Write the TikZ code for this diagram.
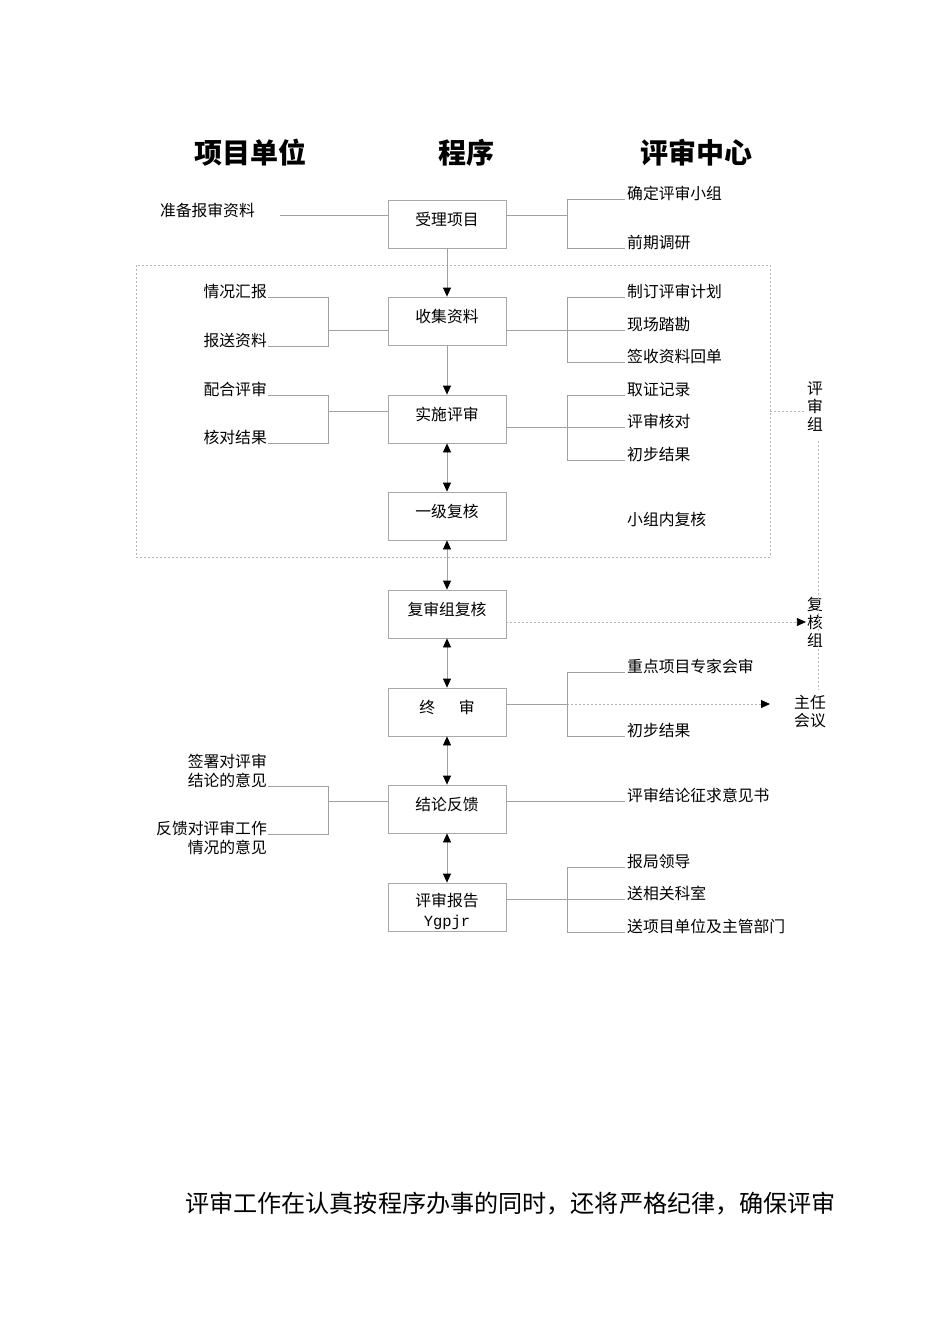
\documentclass[tikz,border=0pt]{standalone}
\usepackage{fontspec}
\setmainfont{Noto Sans CJK SC}
\setmonofont{Liberation Mono}
\usetikzlibrary{arrows.meta,calc}
\definecolor{boxgray}{HTML}{A8A8A8}
\definecolor{lngray}{HTML}{A0A0A0}
\definecolor{dgray}{HTML}{B4B4B4}
\begin{document}
\begin{tikzpicture}[x=1pt,y=-1pt,
  every node/.style={font=\fontsize{15.8}{18}\selectfont},
  box/.style={draw=boxgray, line width=0.8pt, minimum width=118pt, minimum height=48pt, inner sep=0pt, text height=11.5pt, text depth=9.5pt},
  ln/.style={draw=lngray, line width=0.8pt},
  dl/.style={draw=dgray, line width=0.8pt, dash pattern=on 2pt off 2pt},
  lt/.style={anchor=base west, inner sep=0pt},
  rt/.style={anchor=base east, inner sep=0pt},
  hdr/.style={font=\fontsize{28}{30}\selectfont\bfseries, inner sep=0pt},
  stack/.style={align=center, inner sep=0pt, font=\fontsize{15.8}{18}\selectfont},
  tip/.style={-{Triangle[length=9pt,width=8pt,color=black]}},
  dtip/.style={{Triangle[length=9pt,width=8pt,color=black]}-{Triangle[length=9pt,width=8pt,color=black]}},
]
\useasboundingbox (0,0) rectangle (950,1344);

% headers
\node[hdr] (h1) at (250,153) {项目单位};
\node[hdr] (h2) at (466,153) {程序};
\node[hdr] (h3) at (696,153) {评审中心};

% dashed group
\node[dl, draw, minimum width=634pt, minimum height=292pt, inner sep=0pt] (grp) at (453,411) {};

% boxes
\node[box] (b1) at (447,224) {受理项目};
\node[box] (b2) at (447,321) {收集资料};
\node[box] (b3) at (447,419) {实施评审};
\node[box] (b4) at (447,516) {一级复核};
\node[box] (b5) at (447,614) {复审组复核};
\node[box] (b6) at (447,712) {终\hspace{1.5em}审};
\node[box] (b7) at (447,809) {结论反馈};
\node[box] (b8) at (447,907) {};
\node[stack, font=\fontsize{15.8}{20}\selectfont] (b8t) at (447,911) {评审报告\\{\ttfamily\fontsize{15.5}{20}\selectfont Ygpjr}};

% main arrows
\draw[ln, tip] (b1.south) -- (b2.north);
\draw[ln, tip] (b2.south) -- (b3.north);
\draw[ln, dtip] (b3.south) -- (b4.north);
\draw[ln, dtip] (b4.south) -- (b5.north);
\draw[ln, dtip] (b5.south) -- (b6.north);
\draw[ln, dtip] (b6.south) -- (b7.north);
\draw[ln, dtip] (b7.south) -- (b8.north);

% row 1
\node[rt] (l1) at (255,216) {准备报审资料};
\draw[ln] ($(l1.base east)+(25,-1)$) -- ($(b1.west)+(0,-9)$);
\node[lt] (r1a) at (627,199) {确定评审小组};
\node[lt] (r1b) at (627,248) {前期调研};
\draw[ln] ($(b1.east)+(0,-9)$) -- ++(61,0);
\draw[ln] ($(r1a.base west)+(-2,0)$) -- ++(-58,0) |- ($(r1b.base west)+(-2,0)$);

% row 2
\node[rt] (l2a) at (267,297) {情况汇报};
\node[rt] (l2b) at (267,346) {报送资料};
\draw[ln] ($(l2a.base east)+(1,0)$) -- ++(60,0) |- ($(l2b.base east)+(1,0)$);
\draw[ln] ($(b2.west)+(-60,9)$) -- ($(b2.west)+(0,9)$);
\node[lt] (r2a) at (627,297) {制订评审计划};
\node[lt] (r2b) at (627,330) {现场踏勘};
\node[lt] (r2c) at (627,362) {签收资料回单};
\draw[ln] ($(b2.east)+(0,9)$) -- ($(r2b.base west)+(-2,0)$);
\draw[ln] ($(r2a.base west)+(-2,0)$) -- ++(-58,0) |- ($(r2c.base west)+(-2,0)$);

% row 3
\node[rt] (l3a) at (267,395) {配合评审};
\node[rt] (l3b) at (267,443) {核对结果};
\draw[ln] ($(l3a.base east)+(1,0)$) -- ++(60,0) |- ($(l3b.base east)+(1,0)$);
\draw[ln] ($(b3.west)+(-60,-8)$) -- ($(b3.west)+(0,-8)$);
\node[lt] (r3a) at (627,395) {取证记录};
\node[lt] (r3b) at (627,427) {评审核对};
\node[lt] (r3c) at (627,460) {初步结果};
\draw[ln] ($(b3.east)+(0,8)$) -- ($(r3b.base west)+(-2,0)$);
\draw[ln] ($(r3a.base west)+(-2,0)$) -- ++(-58,0) |- ($(r3c.base west)+(-2,0)$);

% row 4
\node[lt] (r4) at (627,525) {小组内复核};

% side labels
\node[stack] (psz) at (815,407) {评\\审\\组};
\node[stack] (fhz) at (815,622) {复\\核\\组};
\node[stack] (zrhy) at (810,712) {主任\\会议};
\draw[dl] (grp.east) -- ($(grp.east -| psz.west)+(-2,0)$);
\coordinate (vd) at (818,690);
\draw[dl] ($(psz.south)+(3,9)$) -- (vd);

% row 5
\draw[dl, tip] ($(b5.east)+(0,8)$) -- ($(fhz.west)+(-1,0)$);

% row 6
\node[lt] (r6a) at (627,672) {重点项目专家会审};
\node[lt] (r6b) at (627,736) {初步结果};
\draw[ln] ($(b6.east)+(0,-8)$) -- ++(61,0) coordinate (j6);
\draw[dl, tip] (j6) -- ($(zrhy.west)+(-24,-8)$);
\draw[ln] ($(r6a.base west)+(-2,0)$) -- ++(-58,0) |- ($(r6b.base west)+(-2,0)$);

% row 7
\node[rt] (l7a1) at (267,767) {签署对评审};
\node[rt] (l7a2) at (267,786) {结论的意见};
\node[rt] (l7b1) at (267,834) {反馈对评审工作};
\node[rt] (l7b2) at (267,853) {情况的意见};
\draw[ln] ($(l7a2.base east)+(1,0)$) -- ++(60,0) |- ($(l7b1.base east)+(1,0)$);
\draw[ln] ($(b7.west)+(-60,-8)$) -- ($(b7.west)+(0,-8)$);
\node[lt] (r7) at (627,801) {评审结论征求意见书};
\draw[ln] ($(b7.east)+(0,-8)$) -- ($(r7.base west)+(-2,0)$);

% row 8
\node[lt] (r8a) at (627,867) {报局领导};
\node[lt] (r8b) at (627,899) {送相关科室};
\node[lt] (r8c) at (627,932) {送项目单位及主管部门};
\draw[ln] ($(b8.east)+(0,-8)$) -- ($(r8b.base west)+(-2,0)$);
\draw[ln] ($(r8a.base west)+(-2,0)$) -- ++(-58,0) |- ($(r8c.base west)+(-2,0)$);

% bottom text
\node[anchor=base west, inner sep=0pt, font=\fontsize{24.1}{28}\selectfont] (bt) at (185,1212) {评审工作在认真按程序办事的同时，还将严格纪律，确保评审};
\end{tikzpicture}
\end{document}
